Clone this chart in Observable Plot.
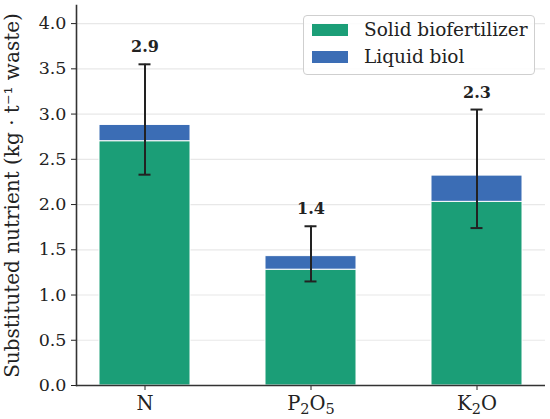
<!DOCTYPE html>
<html>
<head>
<meta charset="utf-8">
<script src="https://cdn.jsdelivr.net/npm/d3@7"></script>
<script src="https://cdn.jsdelivr.net/npm/@observablehq/plot@0.6"></script>
<style>
  body { margin: 0; background: #fff; }
  #wrap { position: relative; width: 550px; height: 419px; font-family: "DejaVu Serif", serif; }
  #legend { position: absolute; left: 303px; top: 15px; width: 232px; height: 60px; box-sizing: border-box;
    border: 1px solid #cfcfcf; border-radius: 4px; background: rgba(255,255,255,0.85); font-size: 18.5px; color: #222; }
  .row { position: absolute; left: 8px; display: flex; align-items: center; height: 22px; line-height: 22px; }
  .sw { width: 36px; height: 12px; margin-right: 16px; }
</style>
</head>
<body>
<div id="wrap">
  <div id="chart"></div>
  <div id="legend"></div>
</div>
<script>
const categories = ["N", "P2O5", "K2O"];
const seriesNames = ["Solid biofertilizer", "Liquid biol"];
const solidValues = [2.70, 1.28, 2.03];
const liquidValues = [0.18, 0.15, 0.29];
const errLow = [2.33, 1.15, 1.74];
const errHigh = [3.55, 1.76, 3.05];
const totalLabels = ["2.9", "1.4", "2.3"];
const yTicks = [0, 0.5, 1.0, 1.5, 2.0, 2.5, 3.0, 3.5, 4.0];
const colors = ["#1b9e77", "#3b6db5"];

const bars = [];
categories.forEach((c, i) => {
  bars.push({cat: c, series: seriesNames[0], value: solidValues[i]});
  bars.push({cat: c, series: seriesNames[1], value: liquidValues[i]});
});
const errs = categories.map((c, i) => ({cat: c, lo: errLow[i], hi: errHigh[i], label: totalLabels[i]}));

const chart = Plot.plot({
  width: 550,
  height: 419,
  marginLeft: 76,
  marginRight: 5,
  marginTop: 5,
  marginBottom: 34,
  style: {fontFamily: "DejaVu Serif", fontSize: "17.5px", color: "#222", background: "#fff"},
  x: {domain: categories, paddingInner: 0.45, paddingOuter: 0.135, label: null},
  y: {domain: [0, 4.2], label: null},
  color: {domain: seriesNames, range: colors},
  marks: [
    Plot.gridY(yTicks.slice(1), {stroke: "#e8e8e8", strokeOpacity: 1, strokeWidth: 1.2}),
    Plot.barY(bars, Plot.stackY({order: null}, {x: "cat", y: "value", fill: "series", stroke: "#fff", strokeWidth: 1})),
    Plot.ruleX(errs, {x: "cat", y1: "lo", y2: "hi", stroke: "#222", strokeWidth: 2}),
    Plot.tickY(errs, {x: "cat", y: "lo", stroke: "#222", strokeWidth: 2, insetLeft: 39.5, insetRight: 39.5}),
    Plot.tickY(errs, {x: "cat", y: "hi", stroke: "#222", strokeWidth: 2, insetLeft: 39.5, insetRight: 39.5}),
    Plot.text(errs, {x: "cat", y: "hi", text: "label", dy: -17, fontWeight: "bold", fontSize: 16, fill: "#222"}),
    Plot.axisY({ticks: yTicks, tickFormat: d3.format(".1f"), tickSize: 5, tickPadding: 5, fontSize: 17.5,
      label: null}),
    Plot.axisY({ticks: [], tickSize: 0, fontSize: 20,
      label: "Substituted nutrient (kg · t⁻¹ waste)", labelAnchor: "center", labelArrow: "none", labelOffset: 72}),
    Plot.axisX({tickSize: 5, tickPadding: 6, fontSize: 19.5, label: null}),
    Plot.ruleY([0], {stroke: "#333", strokeWidth: 1.6}),
    Plot.frame({anchor: "left", stroke: "#333", strokeWidth: 1.6})
  ]
});
document.getElementById("chart").appendChild(chart);

// render x tick labels with true subscripts (like mathtext)
d3.select(chart).selectAll('g[aria-label="x-axis tick label"] text').each(function() {
  const el = d3.select(this);
  const s = el.text();
  el.text(null);
  const parts = s.match(/[A-Za-z]+|\d+/g);
  parts.forEach(p => {
    const isNum = /^\d+$/.test(p);
    el.append("tspan")
      .attr("font-size", isNum ? "14.5px" : null)
      .attr("dy", isNum ? "0.22em" : null)
      .text(p)
      .call(t => { if (!isNum && p !== parts[0]) t.attr("dy", "-0.16em"); });
  });
});

const legend = document.getElementById("legend");
seriesNames.forEach((s, i) => {
  const row = document.createElement("div");
  row.className = "row";
  row.style.top = (i === 0 ? 3 : 30) + "px";
  const sw = document.createElement("div");
  sw.className = "sw";
  sw.style.background = colors[i];
  const t = document.createElement("span");
  t.textContent = s;
  row.appendChild(sw);
  row.appendChild(t);
  legend.appendChild(row);
});
</script>
</body>
</html>
